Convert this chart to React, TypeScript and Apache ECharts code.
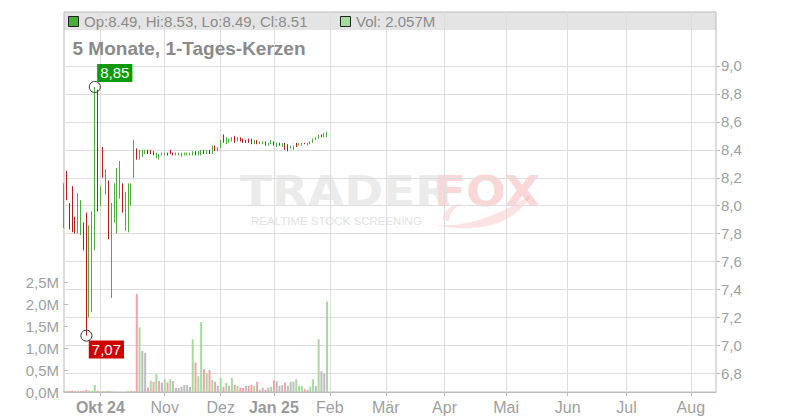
import React, { useEffect, useRef } from "react";
import * as echarts from "echarts";

const FONT = '"Liberation Sans", Arial, Helvetica, sans-serif';
const MARK_FONT = '"DejaVu Sans", "Liberation Sans", Arial, sans-serif';

// trading calendar
const START_DATE = "2024-09-12";
const END_DATE = "2025-08-14";
const HOLIDAYS = ["2024-11-28", "2024-12-25", "2024-12-26", "2024-12-31", "2025-01-01", "2025-01-09", "2025-01-20"];
const MONTH_NAMES = ["Jan", "Feb", "Mär", "Apr", "Mai", "Jun", "Jul", "Aug", "Sep", "Okt", "Nov", "Dez"];

// daily candles from START_DATE: [open, close, low, high]
const ohlc: number[][] = [
  [7.86, 8.10, 7.84, 8.16], [8.22, 8.06, 8.04, 8.25], [8.00, 7.86, 7.83, 8.02], [8.12, 7.84, 7.81, 8.14],
  [7.90, 7.82, 7.80, 7.92], [7.82, 8.06, 7.80, 8.09], [7.82, 7.98, 7.79, 8.04], [7.86, 7.75, 7.68, 7.88],
  [7.93, 7.45, 7.07, 7.95], [7.45, 7.84, 7.20, 7.86], [7.55, 7.92, 7.24, 7.96], [7.70, 8.80, 7.68, 8.85],
  [8.82, 7.98, 7.96, 8.83], [8.02, 8.13, 8.00, 8.14], [8.40, 8.22, 8.20, 8.42], [8.12, 8.25, 8.08, 8.26],
  [8.17, 7.80, 7.76, 8.18], [7.88, 8.00, 7.34, 8.02], [7.90, 8.15, 7.88, 8.16], [7.82, 8.24, 7.80, 8.27],
  [8.06, 8.30, 8.05, 8.32], [8.15, 7.98, 7.95, 8.16], [7.84, 8.08, 7.82, 8.10], [7.86, 8.14, 7.81, 8.16],
  [8.06, 8.12, 8.00, 8.16], [8.22, 8.46, 8.20, 8.47], [8.41, 8.35, 8.33, 8.41], [8.34, 8.40, 8.33, 8.40],
  [8.36, 8.40, 8.35, 8.40], [8.38, 8.40, 8.37, 8.40], [8.40, 8.37, 8.37, 8.40], [8.40, 8.38, 8.37, 8.40],
  [8.39, 8.36, 8.36, 8.39], [8.35, 8.38, 8.34, 8.38], [8.34, 8.37, 8.33, 8.37], [8.36, 8.37, 8.36, 8.38],
  [8.37, 8.38, 8.36, 8.38], [8.38, 8.36, 8.36, 8.38], [8.40, 8.37, 8.37, 8.40], [8.38, 8.37, 8.36, 8.38],
  [8.37, 8.37, 8.36, 8.38], [8.36, 8.37, 8.36, 8.38], [8.36, 8.37, 8.35, 8.38], [8.37, 8.37, 8.36, 8.38],
  [8.36, 8.37, 8.36, 8.38], [8.36, 8.37, 8.36, 8.38], [8.36, 8.39, 8.36, 8.39], [8.39, 8.37, 8.36, 8.39],
  [8.37, 8.38, 8.36, 8.39], [8.37, 8.40, 8.36, 8.40], [8.40, 8.38, 8.37, 8.40], [8.38, 8.39, 8.37, 8.40],
  [8.40, 8.38, 8.37, 8.40], [8.38, 8.41, 8.37, 8.43], [8.42, 8.40, 8.39, 8.43], [8.40, 8.40, 8.39, 8.42],
  [8.41, 8.46, 8.41, 8.47], [8.47, 8.45, 8.45, 8.51], [8.45, 8.48, 8.44, 8.49], [8.46, 8.48, 8.45, 8.48],
  [8.47, 8.49, 8.46, 8.49], [8.49, 8.47, 8.45, 8.50], [8.46, 8.48, 8.46, 8.49], [8.48, 8.47, 8.46, 8.49],
  [8.48, 8.46, 8.45, 8.48], [8.47, 8.46, 8.45, 8.47], [8.47, 8.45, 8.45, 8.48], [8.47, 8.44, 8.44, 8.48],
  [8.45, 8.46, 8.44, 8.47], [8.47, 8.45, 8.44, 8.47], [8.44, 8.45, 8.44, 8.46], [8.44, 8.45, 8.44, 8.46],
  [8.45, 8.44, 8.43, 8.46], [8.43, 8.44, 8.43, 8.45], [8.44, 8.46, 8.44, 8.47], [8.46, 8.44, 8.43, 8.46],
  [8.44, 8.44, 8.42, 8.45], [8.45, 8.44, 8.43, 8.45], [8.43, 8.44, 8.42, 8.45], [8.44, 8.42, 8.40, 8.45],
  [8.43, 8.42, 8.39, 8.44], [8.41, 8.42, 8.41, 8.43], [8.41, 8.42, 8.40, 8.43], [8.44, 8.43, 8.42, 8.45],
  [8.43, 8.44, 8.43, 8.45], [8.44, 8.45, 8.43, 8.45], [8.45, 8.44, 8.44, 8.45], [8.43, 8.44, 8.43, 8.45],
  [8.44, 8.46, 8.44, 8.46], [8.46, 8.48, 8.45, 8.48], [8.47, 8.48, 8.47, 8.49], [8.48, 8.50, 8.48, 8.51],
  [8.51, 8.50, 8.49, 8.51], [8.49, 8.50, 8.49, 8.52], [8.49, 8.51, 8.49, 8.53],
];

// daily volume, millions
const volumesM: number[] = [
  0.03, 0.02, 0.02, 0.03, 0.02, 0.03, 0.02, 0.03, 0.05, 0.03, 0.03, 0.16, 0.03, 0.02, 0.02, 0.02,
  0.02, 0.02, 0.01, 0, 0, 0, 0, 0.02, 0.02, 0.02, 2.23, 1.47, 0.93, 0.89, 0.10, 0.25,
  0.23, 0.41, 0.25, 0.21, 0.29, 0.22, 0.29, 0.25, 0.09, 0.09, 0.12, 0.16, 0.16, 0.12, 1.20, 0.67,
  0.36, 1.59, 0.52, 0.43, 0.50, 0.27, 0.23, 0.14, 0.32, 0.12, 0.21, 0.14, 0.32, 0.16, 0.14, 0.10,
  0.09, 0.14, 0.14, 0.16, 0.14, 0.23, 0.05, 0.10, 0.05, 0.10, 0.12, 0.27, 0.25, 0.14, 0.16, 0.21,
  0.14, 0.23, 0.23, 0.29, 0.14, 0.14, 0.07, 0.05, 0.12, 0.29, 0.14, 1.20, 0.47, 0.42, 2.057,
];

const priceTicks = [6.8, 7.0, 7.2, 7.4, 7.6, 7.8, 8.0, 8.2, 8.4, 8.6, 8.8, 9.0];

const UP = "#4cae3a";
const DOWN = "#b71c1c";
const VOL_UP = "#a6dba0";
const VOL_DOWN = "#f2a3ab";
const VOL_FLAT = "#bdbdbd";
const LABEL = "#a0a0a0";

echarts.graphic.registerShape(
  "foxtail",
  echarts.graphic.extendPath(
    "M0 30 C20 34 55 30 100 0 C88 20 70 32 40 34 C25 35 10 33 0 30 Z M10 26 C12 16 20 10 30 10 C22 14 18 18 17 27 Z",
    {}
  )
);

function tradingDays(): string[] {
  const out: string[] = [];
  const d = new Date(START_DATE + "T12:00:00Z");
  const end = new Date(END_DATE + "T12:00:00Z");
  while (d <= end) {
    const wd = d.getUTCDay();
    const s = d.toISOString().slice(0, 10);
    if (wd !== 0 && wd !== 6 && !HOLIDAYS.includes(s)) out.push(s);
    d.setUTCDate(d.getUTCDate() + 1);
  }
  return out;
}

const de = (v: number, digits: number) => v.toFixed(digits).replace(".", ",");

function buildOption() {
  const days = tradingDays();
  const isMonthStart = (i: number) => i > 0 && days[i].slice(0, 7) !== days[i - 1].slice(0, 7);
  const firstMonthStart = days.findIndex((_, i) => isMonthStart(i));

  const closes = ohlc.map((d) => d[1]);
  const volColor = (i: number) => {
    if (i === 0) return ohlc[0][1] >= ohlc[0][0] ? VOL_UP : VOL_DOWN;
    const a = Math.round(closes[i] * 100);
    const b = Math.round(closes[i - 1] * 100);
    return a > b ? VOL_UP : a < b ? VOL_DOWN : VOL_FLAT;
  };

  let hiIdx = 0;
  let loIdx = 0;
  ohlc.forEach((d, i) => {
    if (d[3] > ohlc[hiIdx][3]) hiIdx = i;
    if (d[2] < ohlc[loIdx][2]) loIdx = i;
  });
  const last = ohlc.length - 1;
  const [lo, lc, ll, lh] = ohlc[last];
  const headerText = `Op:${lo.toFixed(2)}, Hi:${lh.toFixed(2)}, Lo:${ll.toFixed(2)}, Cl:${lc.toFixed(2)}`;
  const volText = `Vol: ${volumesM[last].toFixed(3)}M`;

  const hiddenCat = (gridIndex: number) => ({
    type: "category",
    gridIndex,
    data: days,
    boundaryGap: false,
    show: false,
  });

  const markText = (text: string, x: number, fill: string) => ({
    type: "text", z: -5, silent: true, x, y: 191, scaleX: 1.09, scaleY: 1,
    style: {
      text, fill, fontSize: 43, fontWeight: "bold", fontFamily: MARK_FONT,
      align: "left", verticalAlign: "middle",
    },
  });

  return {
    animation: false,
    textStyle: { fontFamily: FONT },
    grid: [
      { left: 64, right: 84, top: 12, bottom: 28, show: true, borderColor: "#bbbbbb", borderWidth: 1, backgroundColor: "transparent" },
      { left: 64, right: 84, top: 38.06, bottom: 28 },
      { left: 64, right: 84, top: 282, bottom: 28 },
    ],
    xAxis: [
      {
        type: "category",
        gridIndex: 0,
        data: days,
        boundaryGap: false,
        axisLine: { show: true, lineStyle: { color: "#bbbbbb" } },
        axisTick: { show: true, interval: (i: number) => isMonthStart(i), length: 4, lineStyle: { color: "#bbbbbb" } },
        splitLine: { show: true, interval: (i: number) => isMonthStart(i), lineStyle: { color: "#dddddd" } },
        axisLabel: {
          interval: (i: number) => isMonthStart(i),
          color: LABEL,
          fontSize: 16,
          fontFamily: FONT,
          margin: 7,
          formatter: (value: string, index: number) => {
            const m = Number(value.slice(5, 7)) - 1;
            if (m === 0 || index === firstMonthStart) return `{b|${MONTH_NAMES[m]} ${value.slice(2, 4)}}`;
            return MONTH_NAMES[m];
          },
          rich: { b: { fontWeight: "bold", color: "#999999", fontSize: 16, fontFamily: FONT } },
        },
      },
      hiddenCat(1),
      hiddenCat(2),
    ],
    yAxis: [
      { type: "value", gridIndex: 0, show: false },
      {
        type: "value",
        gridIndex: 1,
        position: "right",
        min: 6.6664,
        max: 9.2,
        splitNumber: 13,
        axisLine: { show: false },
        axisTick: { show: true, length: 4, customValues: priceTicks, lineStyle: { color: "#bbbbbb" } },
        axisLabel: {
          customValues: priceTicks,
          color: LABEL,
          fontSize: 15,
          fontFamily: FONT,
          margin: 5,
          formatter: (v: number) => (v < 6.79 || v > 9.01 ? "" : de(v, 1)),
        },
        splitLine: { show: true, lineStyle: { color: "#dddddd" } },
      },
      {
        type: "value",
        gridIndex: 2,
        position: "left",
        min: 0,
        max: 2500000,
        interval: 500000,
        axisLine: { show: false },
        axisTick: { show: true, inside: true, length: 4, lineStyle: { color: "#bbbbbb" } },
        axisLabel: {
          color: LABEL,
          fontSize: 15,
          fontFamily: FONT,
          margin: 5,
          formatter: (v: number) => de(v / 1e6, 1) + "M",
        },
        splitLine: { show: false },
      },
    ],
    series: [
      {
        type: "bar",
        xAxisIndex: 2,
        yAxisIndex: 2,
        barWidth: 2,
        data: volumesM.map((v, i) => ({ value: v * 1e6, itemStyle: { color: volColor(i) } })),
      },
      {
        type: "candlestick",
        xAxisIndex: 1,
        yAxisIndex: 1,
        barWidth: 1.2,
        data: ohlc,
        itemStyle: { color: UP, color0: DOWN, borderColor: UP, borderColor0: DOWN, borderWidth: 1 },
        markPoint: {
          symbol: "circle",
          symbolSize: 11,
          itemStyle: { color: "rgba(255,255,255,0)", borderColor: "#333333", borderWidth: 1 },
          data: [
            {
              coord: [days[hiIdx], ohlc[hiIdx][3]],
              label: {
                show: true,
                formatter: de(ohlc[hiIdx][3], 2),
                offset: [20, -14],
                color: "#ffffff",
                fontSize: 15,
                fontFamily: FONT,
                backgroundColor: "#0a9a0a",
                padding: [2, 3, 1, 3],
              },
            },
            {
              coord: [days[loIdx], ohlc[loIdx][2]],
              label: {
                show: true,
                formatter: de(ohlc[loIdx][2], 2),
                offset: [20, 14],
                color: "#ffffff",
                fontSize: 15,
                fontFamily: FONT,
                backgroundColor: "#cc0000",
                padding: [2, 3, 1, 3],
              },
            },
          ],
        },
      },
    ],
    graphic: [
      { type: "rect", z: -5, silent: true, shape: { x: 64, y: 12, width: 652, height: 18 }, style: { fill: "#e4e4e4" } },
      markText("TRADER", 240, "#ebebeb"),
      markText("FOX", 434, "#fad8d8"),
      {
        type: "text", z: -5, silent: true, x: 251, y: 221,
        style: { text: "REALTIME STOCK SCREENING", fill: "#e2e2e2", fontSize: 11.5, fontFamily: FONT, align: "left", verticalAlign: "middle" },
      },
      { type: "foxtail", z: -5, silent: true, x: 432, y: 194, scaleX: 1, scaleY: 1, style: { fill: "rgba(245,175,175,0.35)" } },
      { type: "rect", z: 10, silent: true, shape: { x: 68.5, y: 16.5, width: 10, height: 10 }, style: { fill: UP, stroke: "#222222", lineWidth: 1 } },
      {
        type: "text", z: 10, silent: true, x: 84, y: 21.5,
        style: { text: headerText, fill: "#8c8c8c", fontSize: 15, fontFamily: FONT, align: "left", verticalAlign: "middle" },
      },
      { type: "rect", z: 10, silent: true, shape: { x: 340.5, y: 16.5, width: 10, height: 10 }, style: { fill: VOL_UP, stroke: "#222222", lineWidth: 1 } },
      {
        type: "text", z: 10, silent: true, x: 356, y: 21.5,
        style: { text: volText, fill: "#8c8c8c", fontSize: 15, fontFamily: FONT, align: "left", verticalAlign: "middle" },
      },
      {
        type: "text", z: 10, silent: true, x: 72.5, y: 48,
        style: { text: "5 Monate, 1-Tages-Kerzen", fill: "#8a8a8a", fontSize: 19, fontWeight: "bold", fontFamily: FONT, align: "left", verticalAlign: "middle" },
      },
    ],
  };
}

export default function App() {
  const ref = useRef<HTMLDivElement>(null);
  useEffect(() => {
    document.body.style.margin = "0";
    const chart = echarts.init(ref.current!, null, { renderer: "svg" });
    chart.setOption(buildOption() as any);
    return () => chart.dispose();
  }, []);
  return <div ref={ref} style={{ width: 800, height: 420 }} />;
}
